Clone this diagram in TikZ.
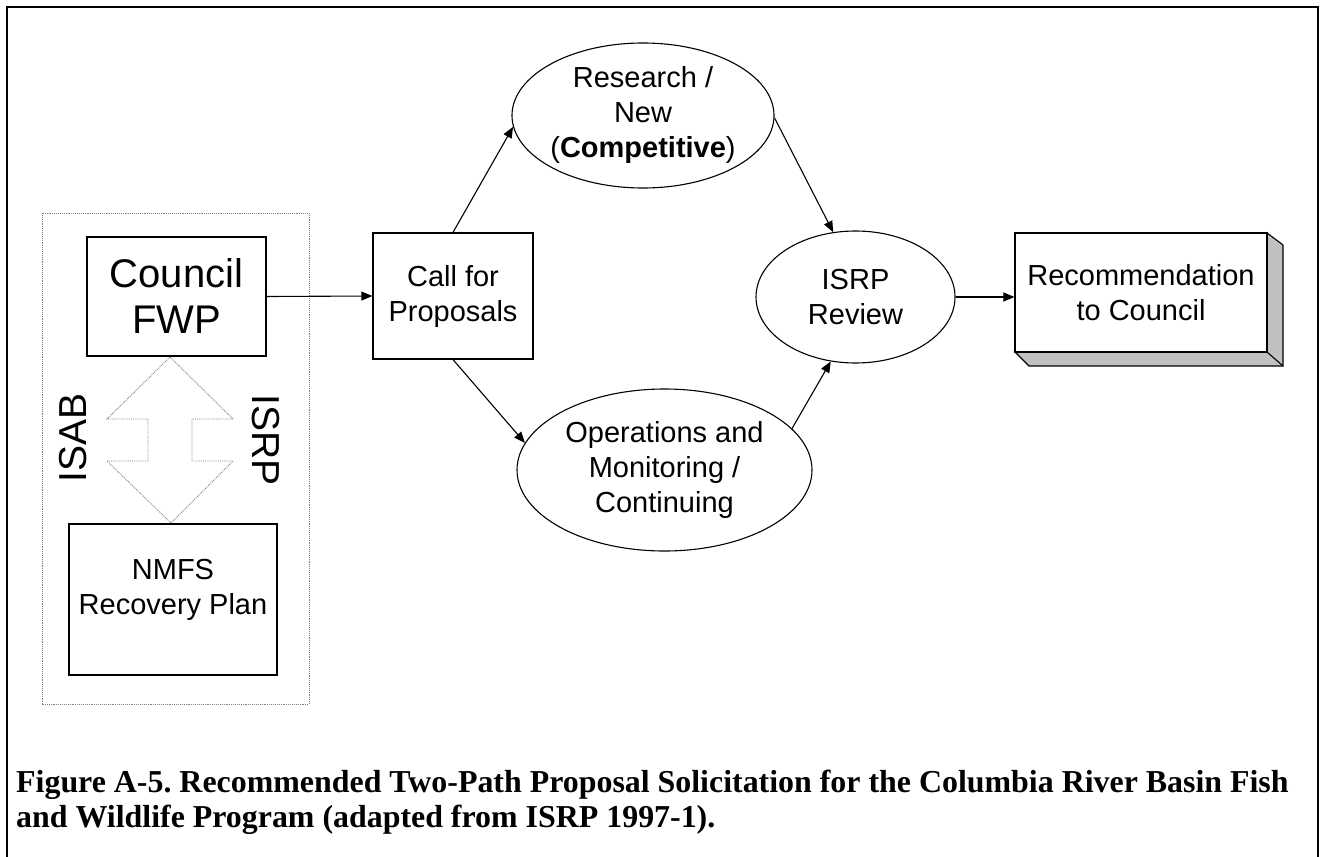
\documentclass[tikz,border=0pt]{standalone}
\usepackage{fontspec}
\setmainfont{Liberation Sans}
\newfontfamily\capfont{Liberation Serif}
\usetikzlibrary{shapes.geometric,arrows.meta}
\definecolor{sidegray}{HTML}{C0C0C0}
\definecolor{dotgray}{HTML}{808080}
\tikzset{
  box/.style={draw, line width=1.2pt, fill=white, inner sep=0pt, align=center},
  oval/.style={ellipse, draw, line width=1.1pt, fill=white, inner sep=0pt, align=center},
  conn/.style={line width=1.1pt, -{Triangle[length=11pt,width=9pt]}},
  txt29/.style={font=\fontsize{29}{35}\selectfont},
  dotline/.style={draw=dotgray, line width=0.9pt, densely dotted},
  captxt/.style={anchor=base west, inner sep=0pt, font=\capfont\bfseries\fontsize{31.9}{35}\selectfont},
}
\begin{document}
\frenchspacing
\begin{tikzpicture}[x=1pt,y=-1pt]
\useasboundingbox (0,0) rectangle (1321,856);
% outer frame
\draw[line width=2.8pt] (7,870) -- (7,7) -- (1318,7) -- (1318,870);
% dotted group box
\draw[dotline] (42,213) rectangle (309,704);
% double arrow
\draw[dotline, fill=white] (170,357) -- (233,419) -- (192,419) -- (192,461) -- (233,461)
  -- (171,523) -- (107,461) -- (148,461) -- (148,419) -- (107,419) -- cycle;
\node[rotate=90, font=\fontsize{39}{45}\selectfont] (isab) at (73,438) {ISAB};
\node[rotate=-90, font=\fontsize{39}{45}\selectfont] (isrplab) at (266,440) {ISRP};
% boxes
\node[box, minimum width=179pt, minimum height=119pt, font=\fontsize{40}{46}\selectfont] (council) at (176.5,296.5) {Council\\FWP};
\node[box, minimum width=208pt, minimum height=151pt] (nmfs) at (173,599.5) {};
\node[txt29, align=center, inner sep=0pt] (nmfstext) at (173,590) {NMFS\\Recovery Plan};
\node[box, txt29, minimum width=160pt, minimum height=126pt] (call) at (453,296) {Call for\\Proposals};
% ellipses
\node[oval, txt29, minimum width=236pt, minimum height=145pt] (res) at (643,115.5) {Research /\\New\\(\textbf{Competitive})};
\node[oval, txt29, minimum width=295pt, minimum height=162pt] (ops) at (664.5,470) {Operations and\\Monitoring /\\Continuing};
\node[oval, txt29, minimum width=199pt, minimum height=132pt] (isrp) at (855.5,297) {ISRP\\Review};
% 3D recommendation box
\fill[sidegray, draw=black, line width=1.1pt] (1015,352) -- (1267,352) -- (1267,233) -- (1283,245) -- (1283,366) -- (1029,366) -- cycle;
\draw[line width=1.1pt] (1267,352) -- (1283,366);
\node[box, txt29, minimum width=252pt, minimum height=119pt] (rec) at (1141,292.5) {Recommendation\\to Council};
% connectors
\draw[conn] (council.east) -- (call.west);
\draw[conn] (call.north) -- (res.185);
\draw[conn] (call.south) -- (ops.169);
\draw[conn] (res.-1) -- (isrp.109);
\draw[conn] (ops.18) -- (isrp.249);
\draw[conn] (isrp.east) -- (isrp.east -| rec.west);
% caption
\node[captxt] (cap1) at (16,792) {Figure A-5. Recommended Two-Path Proposal Solicitation for the Columbia River Basin Fish};
\node[captxt] (cap2) at (16,827) {and Wildlife Program (adapted from ISRP 1997-1).};
\end{tikzpicture}
\end{document}
